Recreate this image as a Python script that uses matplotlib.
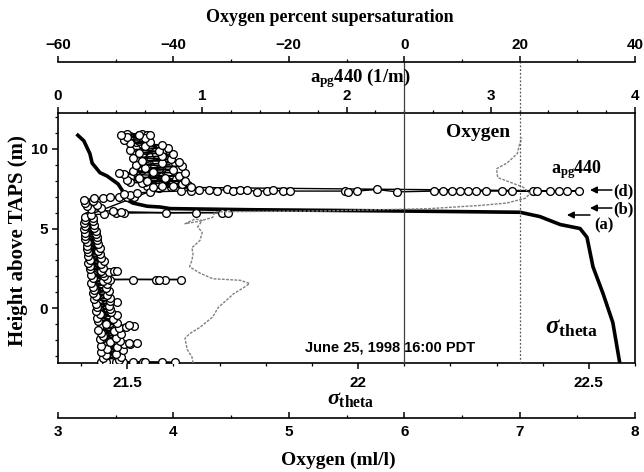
import numpy as np
import matplotlib.pyplot as plt

plt.rcParams['font.family'] = ['Liberation Sans', 'DejaVu Sans']
plt.rcParams['font.weight'] = 'bold'
plt.rcParams['mathtext.fontset'] = 'custom'
plt.rcParams['mathtext.rm'] = 'Liberation Serif:bold'
plt.rcParams['mathtext.it'] = 'Liberation Serif:italic'
plt.rcParams['mathtext.bf'] = 'Liberation Serif:bold'

# sigma theta profile
sig_h = [10.85, 10.5, 9.7, 9.1, 8.5, 8.3, 7.8, 7.4, 6.9, 6.6, 6.4, 6.35, 6.25,
         6.18, 6.1, 6.02, 5.75, 5.25, 5.0, 4.45, 2.6, 0.9, -0.9, -3.44]
sig_v = [21.393, 21.406, 21.419, 21.424, 21.441, 21.456, 21.480, 21.489, 21.493,
         21.512, 21.543, 21.571, 21.593, 21.766, 22.091, 22.351, 22.394, 22.438,
         22.481, 22.496, 22.509, 22.531, 22.552, 22.567]

# oxygen profile (ml/l)
ox_h = [-3.44, -3.05, -2.6, -1.9, -1.6, -1.2, -0.55, 0.06, 0.5, 0.9, 1.25, 1.55,
        1.75, 1.85, 2.2, 2.6, 3.0, 3.4, 3.8, 4.25, 4.75, 5.1, 5.5, 5.6, 5.3, 5.45,
        5.7, 6.05, 6.1, 6.25, 6.45, 6.6, 6.9, 7.2, 7.6, 7.9, 8.2, 8.75, 9.1, 9.7,
        10.3, 10.7]
ox_v = [4.17, 4.16, 4.12, 4.10, 4.14, 4.23, 4.34, 4.39, 4.46, 4.52, 4.60, 4.66,
        4.58, 4.34, 4.23, 4.14, 4.16, 4.17, 4.16, 4.23, 4.25, 4.21, 4.25, 4.19,
        4.10, 4.22, 4.34, 4.36, 5.27, 6.22, 6.66, 6.89, 7.05, 7.09, 7.03, 6.92,
        6.81, 6.80, 6.89, 6.98, 7.00, 7.02]

# apg440 samples (1/m), first cast in profile order
apg_h = [-3.40, -3.40, -3.40, -3.40, -3.40, -3.40, -3.40, -3.38, -3.38, -3.35,
         -3.25, -3.15, -3.05, -2.95, -2.85, -2.75, -2.65, -2.55, -2.45, -2.35,
         -2.25, -2.22, -2.20, -2.18, -2.15,
         -2.05, -1.95, -1.85, -1.75, -1.65, -1.55, -1.45, -1.35, -1.25,
         -1.15, -1.10, -1.07, -1.02,
         -0.9, -0.8, -0.7, -0.6, -0.45, -0.35, -0.25, -0.15, -0.05, 0.05, 0.15, 0.25,
         0.4, 0.45, 0.55, 0.65, 0.75, 0.85, 0.95, 1.05, 1.15, 1.25, 1.35, 1.5, 1.6, 1.7,
         1.78, 1.80, 1.80, 1.80, 1.80, 1.80, 1.82,
         1.9, 2.0, 2.1, 2.2,
         2.3, 2.32, 2.34, 2.36,
         2.45, 2.55, 2.65, 2.75, 2.85, 2.95, 3.05, 3.15, 3.3, 3.4, 3.5, 3.6, 3.7,
         3.8, 3.9, 4.0, 4.15, 4.25, 4.35, 4.45, 4.55, 4.65, 4.75, 4.85, 4.95, 5.05,
         5.15, 5.25, 5.35, 5.45, 5.55, 5.65, 5.75, 5.85,
         5.92, 5.95, 5.97, 6.0, 6.0, 6.0, 6.0, 6.05, 6.08,
         6.2, 6.3, 6.4, 6.5, 6.6, 6.7, 6.8,
         6.9, 6.92, 6.95, 6.95, 6.97, 7.0, 7.1, 7.2, 7.15,
         7.3, 7.35, 7.38, 7.4, 7.42, 7.38, 7.45, 7.35, 7.4, 7.42, 7.32, 7.38, 7.4,
         7.35, 7.35, 7.35, 7.3, 7.35, 7.45, 7.3, 7.35, 7.38, 7.38, 7.38, 7.35, 7.35,
         7.35, 7.35, 7.35, 7.35, 7.35, 7.35, 7.35, 7.35, 7.35,
         7.6, 7.65, 7.6, 7.7, 7.8, 7.85, 7.9, 8.0, 8.0, 8.05, 8.15, 8.2, 8.3, 8.4,
         8.5, 8.5, 8.55, 8.6, 8.7, 8.8, 8.9, 9.0, 9.1, 9.2, 9.25, 9.35, 9.45, 9.55,
         9.65, 9.75, 9.85, 9.95, 10.05, 10.15, 10.25, 10.35, 10.45, 10.55, 10.65,
         10.75, 10.85, 10.9, 10.9]
apg_v = [0.30, 0.37, 0.45, 0.52, 0.59, 0.72, 0.81, 0.60, 0.40, 0.33,
         0.42, 0.31, 0.44, 0.33, 0.40, 0.30, 0.45, 0.34, 0.41, 0.30,
         0.46, 0.50, 0.55, 0.49, 0.36,
         0.43, 0.29, 0.40, 0.31, 0.44, 0.30, 0.39, 0.28, 0.42,
         0.47, 0.53, 0.49, 0.33,
         0.41, 0.28, 0.38, 0.27, 0.41, 0.29, 0.37, 0.26, 0.36, 0.27, 0.35, 0.26,
         0.41, 0.36, 0.25, 0.36, 0.26, 0.34, 0.24, 0.35, 0.25, 0.33, 0.24, 0.34, 0.23, 0.31,
         0.36, 0.52, 0.68, 0.74, 0.85, 0.70, 0.34,
         0.24, 0.32, 0.23, 0.31,
         0.35, 0.39, 0.41, 0.30,
         0.22, 0.31, 0.22, 0.30, 0.21, 0.32, 0.22, 0.30, 0.21, 0.29, 0.21, 0.28, 0.20,
         0.29, 0.20, 0.28, 0.20, 0.27, 0.19, 0.27, 0.19, 0.26, 0.19, 0.26, 0.18, 0.25,
         0.19, 0.25, 0.18, 0.24, 0.19, 0.24, 0.19, 0.23,
         0.32, 0.40, 0.46, 0.96, 1.14, 1.18, 0.75, 0.44, 0.38,
         0.23, 0.30, 0.20, 0.27, 0.19, 0.24, 0.18,
         0.25, 0.31, 0.36, 0.42, 0.48, 0.53, 0.50, 0.55, 0.46,
         0.64, 0.85, 0.92, 0.98, 1.05, 1.10, 1.17, 1.21, 1.26, 1.31, 1.38, 1.45, 1.49,
         1.56, 1.61, 1.99, 2.01, 2.07, 2.21, 2.35, 2.61, 2.67, 2.73, 2.79, 2.84, 2.90,
         2.97, 3.08, 3.15, 3.29, 3.32, 3.41, 3.47, 3.53, 3.61,
         0.66, 0.80, 0.92, 0.72, 0.86, 0.58, 0.50, 0.88, 0.62, 0.48, 0.74, 0.56, 0.84, 0.46,
         0.42, 0.88, 0.66, 0.52, 0.80, 0.60, 0.86, 0.54, 0.72, 0.84, 0.58, 0.78, 0.52, 0.72,
         0.80, 0.56, 0.70, 0.50, 0.76, 0.60, 0.72, 0.50, 0.64, 0.46, 0.60,
         0.48, 0.64, 0.44, 0.56]

# apg440 samples, second cast
apg2_h = [-3.35, -3.2, -3.1, -3.0, -2.9, -2.8, -2.7, -2.6, -2.5, -2.4, -2.3, -2.1,
          -2.0, -1.9, -1.8, -1.7, -1.6, -1.5, -1.4, -1.3, -1.2, -0.95, -0.85, -0.75,
          -0.65, -0.55, -0.5, -0.4, -0.3, -0.2, -0.1, 0.0, 0.1, 0.2, 0.3, 0.5, 0.6,
          0.7, 0.8, 0.9, 1.0, 1.1, 1.2, 1.3, 1.4, 1.55, 1.65, 1.75, 1.95, 2.05, 2.15,
          2.25, 2.4, 2.5, 2.6, 2.7, 2.8, 2.9, 3.0, 3.1, 3.2, 3.35, 3.45, 3.55, 3.65,
          3.75, 3.85, 3.95, 4.05, 4.1, 4.2, 4.3, 4.4, 4.5, 4.6, 4.7, 4.8, 4.9, 5.0,
          5.1, 5.2, 5.3, 5.4, 5.5, 5.6, 5.7, 5.8,
          7.55, 7.6, 7.7, 7.75, 7.8, 7.9, 7.95, 8.05, 8.1, 8.2, 8.25, 8.35, 8.45, 8.5,
          8.6, 8.65, 8.75, 8.85, 8.95, 9.05, 9.15, 9.25, 9.3, 9.4, 9.5, 9.6, 9.7,
          9.8, 9.9, 10.0, 10.1, 10.2, 10.3, 10.4, 10.5, 10.6, 10.7, 10.8, 10.85,
          10.95, 10.95, 10.9]
apg2_v = [0.38, 0.35, 0.39, 0.37, 0.36, 0.42, 0.35, 0.38, 0.36, 0.44, 0.33, 0.38,
          0.35, 0.41, 0.34, 0.37, 0.35, 0.42, 0.33, 0.36, 0.34, 0.36, 0.33, 0.35,
          0.32, 0.36, 0.31, 0.34, 0.32, 0.33, 0.30, 0.32, 0.30, 0.33, 0.29, 0.31,
          0.29, 0.31, 0.28, 0.30, 0.28, 0.30, 0.27, 0.29, 0.27, 0.29, 0.27, 0.28,
          0.27, 0.28, 0.26, 0.27, 0.26, 0.27, 0.25, 0.26, 0.25, 0.26, 0.24, 0.26,
          0.24, 0.25, 0.24, 0.25, 0.23, 0.24, 0.23, 0.24, 0.23, 0.22, 0.23, 0.22,
          0.23, 0.22, 0.22, 0.21, 0.22, 0.21, 0.21, 0.22, 0.21, 0.21, 0.20, 0.21,
          0.20, 0.21, 0.20,
          0.70, 0.78, 0.62, 0.90, 0.70, 0.80, 0.60, 0.72, 0.82, 0.66, 0.50, 0.70,
          0.60, 0.76, 0.68, 0.58, 0.70, 0.66, 0.76, 0.62, 0.58, 0.68, 0.76, 0.62,
          0.64, 0.58, 0.68, 0.72, 0.60, 0.66, 0.54, 0.64, 0.58, 0.54, 0.56, 0.52,
          0.54, 0.50, 0.56, 0.48, 0.58, 0.62]

fig = plt.figure(figsize=(6.44, 4.72), dpi=100)
ax = fig.add_axes([0.0901, 0.2309, 0.8959, 0.5297])

# other scales sharing the height axis
ax_apg = ax.twiny()
ax_ox = ax.twiny()
ax_sat = ax.twiny()

ax.set_xlim(21.35, 22.6)
ax.set_ylim(-3.44, 12.25)
ax_apg.set_xlim(0, 4)
ax_ox.set_xlim(3, 8)
ax_sat.set_xlim(-60, 40)

# data
ax.plot(sig_v, sig_h, color='black', lw=2.6, zorder=3)
ax_ox.plot(ox_v, ox_h, color='0.5', lw=1.0, ls=(0, (2, 1)))
mk = dict(color='black', lw=1.0, marker='o', ms=5.6, mfc='white', mec='black', mew=0.95)
ax_apg.plot(apg2_v, apg2_h, **mk)
ax_apg.plot(apg_v, apg_h, **mk)

# reference lines at 0 % and 20 % supersaturation
ax_ox.plot([6, 6], [0, 1.205], color='0.25', lw=0.9,
           transform=ax_ox.get_xaxis_transform(), clip_on=False)
ax_ox.plot([7, 7], [0, 1.205], color='0.35', lw=0.9, ls=(0, (1.5, 1.5)),
           transform=ax_ox.get_xaxis_transform(), clip_on=False)

# spines and ticks
for a in (ax_apg, ax_ox, ax_sat):
    for s in ('left', 'right', 'top', 'bottom'):
        a.spines[s].set_visible(False)
ax.spines['top'].set_visible(False)
ax_apg.spines['top'].set_visible(True)

ax_ox.xaxis.set_ticks_position('bottom')
ax_ox.spines['bottom'].set_visible(True)
ax_ox.spines['bottom'].set_position(('outward', 39.6))
ax_sat.spines['top'].set_visible(True)
ax_sat.spines['top'].set_position(('outward', 36.9))

ax.set_xticks([21.5, 22, 22.5])
ax.set_xticklabels(['21.5', '22', '22.5'])
ax.set_xticks(np.arange(21.4, 22.6, 0.1), minor=True)
ax.set_yticks([0, 5, 10])
ax.set_yticks(np.arange(-3, 13, 1), minor=True)
ax_apg.set_xticks([0, 1, 2, 3, 4])
ax_apg.set_xticks(np.arange(0, 4.01, 0.2), minor=True)
ax_ox.set_xticks([3, 4, 5, 6, 7, 8])
ax_ox.set_xticks(np.arange(3, 8.01, 0.5), minor=True)
ax_sat.set_xticks([-60, -40, -20, 0, 20, 40])
ax_sat.set_xticks(np.arange(-60, 41, 10), minor=True)

for a in (ax, ax_apg, ax_ox, ax_sat):
    for s in a.spines.values():
        s.set_linewidth(1.2)
    a.tick_params(which='major', length=4, width=1.1, labelsize=11, pad=3)
    a.tick_params(which='minor', length=2.5, width=0.9)
ax.tick_params(axis='x', which='both', direction='out', pad=5)
ax_ox.tick_params(axis='x', which='both', direction='in', pad=5)

# labels
serif = ['Liberation Serif', 'DejaVu Serif']
fig.text(0.512, 0.962, 'Oxygen percent supersaturation', family=serif,
         weight='bold', fontsize=13, ha='center', va='center')
fig.text(0.56, 0.835, r'a$_{\mathbf{pg}}$440 (1/m)', family=serif,
         weight='bold', fontsize=13.5, ha='center', va='center')
fig.text(0.545, 0.155, r'$\sigma_{\mathbf{theta}}$', family=serif,
         fontsize=16, ha='center', va='center')
fig.text(0.525, 0.025, 'Oxygen (ml/l)', family=serif,
         weight='bold', fontsize=14, ha='center', va='center')
fig.text(0.028, 0.49, 'Height above TAPS (m)', family=serif,
         weight='bold', fontsize=15, ha='center', va='center', rotation=90)

# annotations inside the plot
ax.text(0.728, 0.92, 'Oxygen', transform=ax.transAxes, family=serif,
        weight='bold', fontsize=14, ha='center', va='center')
ax.text(0.899, 0.772, r'a$_{\mathbf{pg}}$440', transform=ax.transAxes,
        family=serif, weight='bold', fontsize=13, ha='center', va='center')
ax.text(0.89, 0.144, r'$\sigma_{\mathbf{theta}}$', transform=ax.transAxes,
        family=serif, fontsize=18, ha='center', va='center')
ax.text(0.575, 0.064, 'June 25, 1998 16:00 PDT', transform=ax.transAxes,
        fontsize=10.5, ha='center', va='center')

arrow = dict(arrowstyle='-|>', color='black', lw=1.1, mutation_scale=10,
             shrinkA=0, shrinkB=0)
for lab, y, x0, x1, tx, ty in [('(d)', 0.692, 0.960, 0.922, 0.962, 0.688),
                                ('(b)', 0.620, 0.960, 0.922, 0.962, 0.616),
                                ('(a)', 0.592, 0.922, 0.882, 0.946, 0.552)]:
    ax.annotate('', xy=(x1, y), xytext=(x0, y), xycoords='axes fraction',
                arrowprops=arrow)
    ax.text(tx, ty, lab, transform=ax.transAxes, family=serif, weight='bold',
            fontsize=12, ha='left' if lab != '(a)' else 'center', va='center')

plt.savefig('out.png', dpi=100)
